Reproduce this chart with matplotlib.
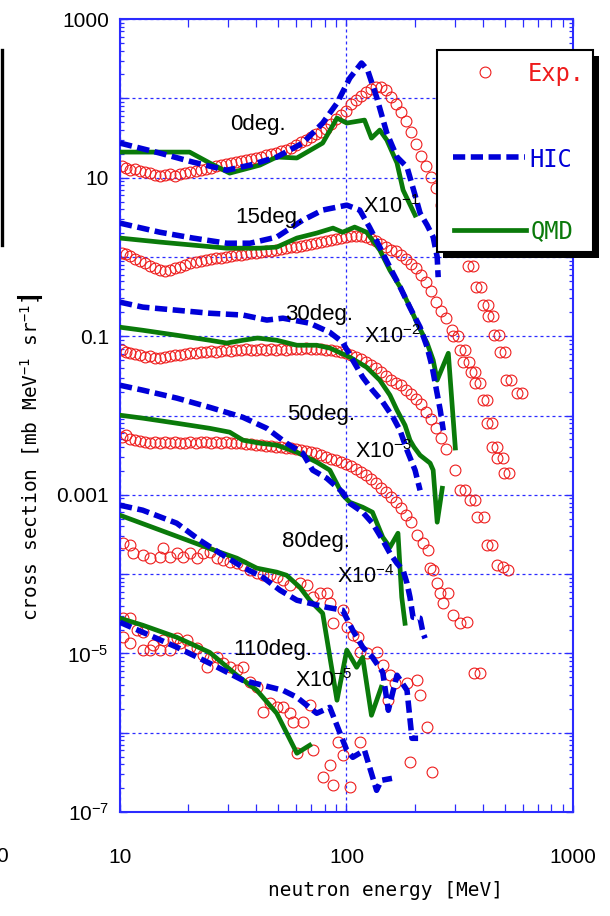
import matplotlib
matplotlib.use("Agg")
import numpy as np
import matplotlib.pyplot as plt
from matplotlib.ticker import FixedLocator, LogLocator, FuncFormatter, NullFormatter
from matplotlib.patches import Rectangle
from matplotlib.lines import Line2D

# ---- data (unscaled cross sections, mb/MeV/sr) ----
e_grid = [10.2, 10.6, 11.1, 11.6, 12.2, 12.9, 13.6, 14.3, 15.0, 15.8,
          16.6, 17.5, 18.4, 19.4, 20.3, 21.6, 22.7, 23.9, 25.2, 26.5,
          27.8, 29.3, 30.8, 32.5, 34.1, 35.9, 37.8, 39.8, 41.9, 44.0,
          46.3, 48.8, 51.3, 54.0, 56.8, 59.8, 62.9, 66.2, 69.7, 73.3,
          77.2, 81.2, 85.5, 89.9, 94.6, 99.6, 105, 110, 116, 122,
          128, 135, 142, 149, 157, 165, 174, 183, 193, 203,
          213, 225, 236, 249, 262, 275]

exp0_s = [14.0, 13.2, 12.4, 12.8, 12.0, 11.7, 11.4, 10.8, 10.5, 10.8,
          11.1, 10.5, 11.1, 11.4, 11.7, 12.0, 12.4, 12.8, 13.2, 14.0,
          14.4, 14.8, 15.3, 15.7, 16.2, 16.7, 17.2, 17.7, 18.2, 19.3,
          19.8, 20.4, 21.6, 22.3, 23.6, 25.8, 28.1, 29.8, 32.6, 35.6,
          37.8, 41.1, 47.5, 54.7, 61.5, 69.2, 84.5, 95, 107, 120,
          131, 139, 139, 127, 104, 84.5, 67, 51.7, 37.8, 26.5,
          18.7, 14.0, 10.2, 7.4, 4.5, 2.75]
exp0_tail_e = [343, 363, 372, 392, 399, 420, 420, 442, 446, 470, 478, 499, 504, 531, 564, 593]
exp0_tail_s = [0.766, 0.766, 0.416, 0.416, 0.247, 0.247, 0.179, 0.179,
               0.103, 0.103, 0.063, 0.063, 0.0279, 0.0279, 0.0191, 0.0191]

exp15_s = [11.2, 10.9, 10.2, 9.4, 8.85, 8.4, 7.7, 7.2, 6.8, 6.6,
           6.8, 7.2, 7.4, 7.9, 8.4, 8.6, 8.85, 9.1, 9.4, 9.7,
           9.7, 9.95, 10.2, 10.5, 10.5, 10.8, 11.2, 11.2, 11.5, 11.8,
           11.8, 12.2, 12.5, 12.9, 13.3, 13.3, 13.7, 14.1, 14.4, 14.8,
           15.4, 15.8, 16.3, 16.8, 17.3, 17.8, 18.3, 18.3, 18.3, 17.8,
           16.8, 15.8, 14.4, 13.3, 12.2, 11.8, 10.6, 9.5, 8.1, 7.2,
           5.9, 4.8, 3.7, 2.7, 2.07, 1.69]
exp15_tail_e = [291, 296, 312, 318, 333, 328, 346, 353, 371, 371, 388,
                399, 419, 419, 437, 437, 464, 464, 489, 494, 520]
exp15_tail_s = [1.19, 1.0, 1.0, 0.667, 0.667, 0.471, 0.471, 0.352, 0.352, 0.256, 0.256,
                0.156, 0.156, 0.080, 0.080, 0.040, 0.040, 0.029, 0.029, 0.0188, 0.0188]

exp30_s = [6.67, 6.3, 6.1, 5.9, 5.8, 5.45, 5.6, 5.3, 5.3, 5.45,
           5.6, 5.8, 5.8, 5.9, 6.1, 6.1, 6.3, 6.3, 6.5, 6.3,
           6.5, 6.67, 6.5, 6.67, 6.67, 6.87, 6.67, 6.67, 6.87, 6.67,
           6.87, 6.67, 6.87, 6.67, 6.87, 6.87, 6.87, 7.08, 6.87, 6.87,
           6.87, 6.67, 6.67, 6.5, 6.3, 6.1, 5.8, 5.45, 5.14, 4.71,
           4.32, 3.96, 3.52, 3.13, 2.79, 2.6, 2.4, 2.1, 1.85, 1.6,
           1.38, 1.12, 0.9, 0.7, 0.52, 0.38]
exp30_tail_e = [302, 318, 333, 352, 371, 377, 403, 419, 437, 464, 489, 514]
exp30_tail_s = [0.205, 0.114, 0.114, 0.0855, 0.0855, 0.052, 0.052,
                0.0232, 0.0232, 0.0129, 0.0122, 0.0112]

exp50_s = [5.33, 5.65, 5.05, 4.89, 4.75, 4.61, 4.48, 4.61, 4.48, 4.61,
           4.48, 4.61, 4.48, 4.48, 4.61, 4.48, 4.61, 4.61, 4.48, 4.61,
           4.48, 4.61, 4.48, 4.48, 4.48, 4.36, 4.36, 4.23, 4.23, 4.11,
           4.11, 3.99, 3.99, 3.88, 3.88, 3.77, 3.66, 3.55, 3.45, 3.35,
           3.16, 2.98, 2.81, 2.73, 2.58, 2.43, 2.30, 2.11, 1.93, 1.77,
           1.57, 1.40, 1.21, 1.08, 0.93, 0.81, 0.68, 0.553, 0.452]
exp50_tail_e = [205, 218, 229, 234, 241, 251, 259, 268, 282, 296, 318, 342, 364, 387]
exp50_tail_s = [0.31, 0.245, 0.20, 0.119, 0.112, 0.0768, 0.0574, 0.043,
                0.0574, 0.0303, 0.024, 0.0247, 0.00562, 0.00562]

exp80_e = [10.3, 11.1, 11.4, 12.6, 13.6, 15.0, 15.5, 16.6, 17.8, 18.9,
           20.3, 21.8, 23.2, 24.9, 26.8, 28.4, 30.5, 32.8, 34.9, 37.5,
           40.2, 42.7, 45.9, 49.2, 52.4, 56.3, 62.2, 66.7, 70.9, 76.1,
           81.8, 84.4, 96.1, 87.2, 100.3, 106.6, 112, 114.4, 122.7, 135.8,
           144.6, 155.5, 163.8, 185, 205, 211.3, 153, 227, 191, 239]
exp80_s = [2.45, 2.32, 1.84, 1.73, 1.59, 1.63, 2.12, 1.63, 1.84, 1.63,
           1.84, 1.59, 1.84, 1.89, 1.59, 1.50, 1.41, 1.37, 1.29, 1.12,
           1.03, 0.968, 0.968, 0.914, 0.837, 0.725, 0.768, 0.725, 0.512, 0.574,
           0.574, 0.430, 0.351, 0.240, 0.214, 0.170, 0.160, 0.103, 0.100, 0.103,
           0.0709, 0.0531, 0.042, 0.042, 0.0458, 0.0297, 0.0257, 0.0117, 0.00424, 0.00317]

exp110_e = [10.3, 11.1, 10.3, 11.1, 11.9, 12.6, 12.6, 13.6, 14.0, 15.0,
            15.5, 16.6, 17.1, 17.8, 18.4, 19.8, 20.3, 21.8, 23.2, 24.9,
            26.8, 24.2, 28.5, 30.5, 32.8, 34.9, 37.5, 40.2, 42.7, 45.9,
            49.2, 52.4, 56.3, 58.0, 64.1, 68.8, 60.4, 70.9, 78.5, 84.4,
            91.5, 96.1, 114.4, 87.2, 103.4]
exp110_s = [2.78, 2.78, 1.60, 1.34, 1.96, 1.85, 1.10, 1.10, 1.27, 1.10,
            1.47, 1.10, 1.47, 1.55, 1.34, 1.47, 1.20, 1.16, 0.949, 0.869,
            0.895, 0.669, 0.751, 0.669, 0.613, 0.669, 0.433, 0.374, 0.181, 0.235,
            0.209, 0.209, 0.176, 0.135, 0.135, 0.222, 0.0551, 0.0601, 0.0274, 0.0388,
            0.0757, 0.0519, 0.0757, 0.0217, 0.0205]

hic0_e = [10, 15.0, 21.0, 29.6, 37.5, 49.2, 64.1, 78.5, 90.8, 103.4, 116.5,
          123.9, 135.8, 150.7, 167.1, 185, 200.8, 211.3, 227, 241.4, 251.5, 254]
hic0_s = [27.3, 20.4, 15.7, 12.4, 14.4, 18.2, 27.3, 48.8, 87, 180, 279,
          228, 104, 36.5, 18.2, 13.6, 6.03, 3.57, 2.52, 1.78, 0.995, 0.556]
qmd0_e = [10, 20.3, 24.9, 30.5, 41.5, 49.2, 60.4, 78.5, 90.8, 100.3, 120.1,
          128.9, 140.3, 150.7, 167.1, 177.8, 200.8]
qmd0_s = [21.0, 21.0, 15.3, 11.4, 14.4, 18.2, 17.7, 27.3, 56.4, 48.8, 53.2,
          31.5, 39.8, 29.8, 15.3, 6.97, 3.37]

hic15_e = [10, 15.0, 21.0, 29.6, 37.5, 49.2, 64.1, 78.5, 100.3, 114.4, 126.3,
           140.3, 155.5, 172.3, 190.7, 211.3, 227, 239, 246.4, 259.4, 267.6]
hic15_s = [26.7, 20.5, 17.3, 14.9, 14.9, 17.8, 29.1, 39, 45, 39, 23.8,
           13.3, 7.4, 4.2, 2.3, 1.3, 0.73, 0.41, 0.256, 0.117, 0.065]
qmd15_e = [10, 15, 21, 29.6, 41.5, 49.2, 60.4, 73.9, 87.2, 96.1, 108.7,
           122.7, 140.3, 155.5, 172.3, 190.7, 205, 227, 241.4, 251.5, 281.6, 302.4]
qmd15_s = [17.3, 15.4, 14.1, 12.9, 12.9, 13.3, 17.3, 20.0, 23.1, 20.5, 23.8,
           20.5, 12.2, 6.8, 4.2, 2.33, 1.46, 0.82, 0.50, 0.28, 0.61, 0.039]

hic30_e = [10, 12.6, 17.8, 24.9, 34.9, 44.5, 52.4, 68.8, 84.4, 96.1,
           106.6, 117.9, 130.2, 144.6, 160.5, 172.3, 185, 200.8, 211.3]
hic30_s = [26.9, 23.3, 21.3, 19.5, 18.5, 16.0, 16.9, 14.6, 11.2, 8.4,
           5.0, 3.05, 2.09, 1.48, 0.95, 0.65, 0.366, 0.205, 0.114]
qmd30_e = [10, 12.6, 17.8, 24.9, 29.6, 34.9, 40.4, 49.2, 60.4, 73.9, 84.4, 103.4,
           122.7, 140.3, 155.5, 167.1, 181.3, 190.7, 198.7, 211.3, 234, 241.4, 251.5, 264.8]
qmd30_s = [13.0, 11.9, 10.3, 8.9, 8.2, 8.9, 9.5, 8.9, 7.7, 7.7, 7.1, 5.45,
           4.07, 2.79, 1.81, 1.17, 0.755, 0.489, 0.40, 0.316, 0.251, 0.205, 0.0452, 0.121]

hic50_e = [10, 12.6, 17.8, 24.9, 34.9, 44.5, 54.4, 64.1, 70.9, 81.8, 96.1, 103.4,
           117.9, 130.2, 144.6, 155.5, 167.1, 177.8, 185, 190.7, 196.7, 211.3, 217.9, 222.4]
hic50_s = [24.1, 20.9, 16.6, 12.7, 9.5, 6.9, 4.48, 3.35, 2.05, 1.62, 1.08, 0.784,
           0.604, 0.439, 0.268, 0.184, 0.137, 0.112, 0.0768, 0.0512, 0.0286, 0.0278, 0.018, 0.0155]
qmd50_e = [10, 12.6, 17.8, 24.9, 30.5, 34.9, 41.5, 49.2, 60.4, 73.9,
           84.4, 96.1, 103.4, 117.9, 130.2, 144.6, 155.5, 168.8, 175.4, 181.3]
qmd50_s = [10.1, 9.27, 8.0, 6.9, 6.17, 4.89, 4.48, 4.23, 3.45, 2.58,
           2.05, 1.0, 0.807, 0.698, 0.604, 0.292, 0.218, 0.328, 0.0512, 0.024]

hic80_e = [10, 12.6, 17.8, 22.5, 27.6, 34.9, 42.7, 50.9, 60.4, 68.8, 81.8,
           96.1, 106.6, 117.9, 130.2, 144.6, 153, 167.1, 185, 194.6, 207.1]
hic80_s = [7.4, 6.4, 4.39, 2.68, 1.84, 1.22, 0.914, 0.627, 0.469, 0.43, 0.382,
           0.351, 0.196, 0.12, 0.0895, 0.0578, 0.0192, 0.0531, 0.0343, 0.00851, 0.00851]
qmd80_e = [10, 27.6, 32.8, 40.2, 49.2, 54.4, 62.2, 68.8, 78.5, 90.8,
           100.3, 110.9, 117.9, 128.9, 142.4]
qmd80_s = [5.53, 1.89, 1.59, 1.19, 1.06, 0.968, 0.684, 0.469, 0.321, 0.0257,
           0.110, 0.0669, 0.0895, 0.0166, 0.0374]

hic110_e = [10, 12.6, 17.8, 24.9, 34.9, 42.7, 52.4, 60.4, 73.9, 84.4,
            100.3, 106.6, 120.1, 135.8, 142.4, 158.8]
hic110_s = [2.47, 1.85, 1.20, 0.751, 0.458, 0.397, 0.343, 0.280, 0.176, 0.209,
            0.0601, 0.049, 0.0601, 0.0188, 0.0251, 0.0266]
qmd110_e = [10, 12.6, 17.8, 24.9, 32.8, 40.2, 49.2, 60.4, 68.8]
qmd110_s = [2.78, 2.27, 1.60, 1.03, 0.531, 0.343, 0.176, 0.0551, 0.0695]

angles = ["0deg.", "15deg.", "30deg.", "50deg.", "80deg.", "110deg."]
scales = [1, 1e-1, 1e-2, 1e-3, 1e-4, 1e-5]
scale_labels = ["X10$^{-1}$", "X10$^{-2}$", "X10$^{-3}$", "X10$^{-4}$", "X10$^{-5}$"]

xtick_vals = [10, 100, 1000]
xtick_labels = ["10", "100", "1000"]
ytick_vals = [1e3, 1e1, 1e-1, 1e-3, 1e-5, 1e-7]
ytick_labels = ["1000", "10", "0.1", "0.001", "10$^{-5}$", "10$^{-7}$"]

# ---- assemble series ----
exp_sets = [
    (e_grid[:len(exp0_s)] + exp0_tail_e, exp0_s + exp0_tail_s),
    (e_grid[:len(exp15_s)] + exp15_tail_e, exp15_s + exp15_tail_s),
    (e_grid[:len(exp30_s)] + exp30_tail_e, exp30_s + exp30_tail_s),
    (e_grid[:len(exp50_s)] + exp50_tail_e, exp50_s + exp50_tail_s),
    (exp80_e, exp80_s),
    (exp110_e, exp110_s),
]
hic_sets = [(hic0_e, hic0_s), (hic15_e, hic15_s), (hic30_e, hic30_s),
            (hic50_e, hic50_s), (hic80_e, hic80_s), (hic110_e, hic110_s)]
qmd_sets = [(qmd0_e, qmd0_s), (qmd15_e, qmd15_s), (qmd30_e, qmd30_s),
            (qmd50_e, qmd50_s), (qmd80_e, qmd80_s), (qmd110_e, qmd110_s)]

RED = "#ee1c1c"
BLUE = "#0000d8"
GREEN = "#0a7a0a"
AXBLUE = "#2b2bff"
SANS = ["Liberation Sans", "DejaVu Sans"]
MONO = ["DejaVu Sans Mono"]

plt.rcParams.update({
    "font.family": SANS,
    "mathtext.default": "regular",
})

fig = plt.figure(figsize=(6.1, 9.16), dpi=100)
ax = fig.add_axes([0.1967, 0.1135, 0.7426, 0.8657])
ax.set_xscale("log")
ax.set_yscale("log")

for (ee, ss), f in zip(exp_sets, scales):
    ax.plot(ee, np.array(ss) * f, ls="none", marker="o", ms=7.8,
            mfc="none", mec=RED, mew=0.8, zorder=2)
for (ee, ss), f in zip(qmd_sets, scales):
    ax.plot(ee, np.array(ss) * f, color=GREEN, lw=3.4, zorder=3)
for (ee, ss), f in zip(hic_sets, scales):
    ax.plot(ee, np.array(ss) * f, color=BLUE, lw=4, dashes=(2.2, 1.0), zorder=4)

# curve labels
angle_pos = [(30.5, 39.8), (32.2, 2.67), (53.4, 0.16), (54.5, 8.7e-3), (51.8, 2.2e-4), (31.5, 9.5e-6)]
for txt, (x, y) in zip(angles, angle_pos):
    ax.text(x, y, txt, fontsize=16, ha="left", va="baseline", zorder=5)
scale_pos = [(118, 3.57), (120, 0.0818), (109, 2.9e-3), (90.6, 7.68e-5), (59.2, 3.74e-6)]
for txt, (x, y) in zip(scale_labels, scale_pos):
    ax.text(x, y, txt, fontsize=15.5, ha="left", va="baseline", zorder=5)

# axes styling
ax.set_xlim(10, 1000)
ax.set_ylim(1e-7, 1e3)
ax.xaxis.set_major_locator(FixedLocator(xtick_vals))
ax.xaxis.set_minor_locator(LogLocator(base=10, subs=np.arange(2, 10)))
ax.xaxis.set_major_formatter(FuncFormatter(
    lambda v, p: dict(zip(xtick_vals, xtick_labels)).get(round(v), "")))
ax.xaxis.set_minor_formatter(NullFormatter())
ax.yaxis.set_major_locator(LogLocator(base=10, numticks=20))
ax.yaxis.set_minor_locator(LogLocator(base=10, subs=np.arange(2, 10), numticks=20))


def ylab(v, p):
    for tv, tl in zip(ytick_vals, ytick_labels):
        if abs(np.log10(v) - np.log10(tv)) < 1e-6:
            return tl
    return ""


ax.yaxis.set_major_formatter(FuncFormatter(ylab))
ax.yaxis.set_minor_formatter(NullFormatter())

ax.tick_params(which="both", direction="in", top=True, right=True,
               color=AXBLUE, labelcolor="black", labelsize=15)
ax.tick_params(axis="x", which="major", length=5, width=1, pad=26)
ax.tick_params(axis="x", which="minor", length=5.5, width=0.9)
ax.tick_params(axis="y", which="major", length=5, width=1, pad=8)
ax.tick_params(axis="y", which="minor", length=3, width=0.9)
for sp in ax.spines.values():
    sp.set_color(AXBLUE)
    sp.set_linewidth(1.5)
ax.set_axisbelow(True)
ax.grid(True, which="major", color=AXBLUE, lw=0.9, ls=(0, (2.4, 2.4)))

# legend drawn by hand (box with hard shadow, hanging over the right spine)
bx, by, bw, bh = 0.6993, 0.7064, 0.3441, 0.2549
ax.add_patch(Rectangle((bx + 0.0132, by - 0.0076), bw, bh, transform=ax.transAxes,
                       facecolor="black", edgecolor="none", clip_on=False, zorder=10))
ax.add_patch(Rectangle((bx, by), bw, bh, transform=ax.transAxes, facecolor="white",
                       edgecolor="black", lw=1.5, clip_on=False, zorder=11))
ax.add_line(Line2D([0.805], [0.933], transform=ax.transAxes, ls="none", marker="o",
                   ms=7.8, mfc="none", mec=RED, mew=0.8, clip_on=False, zorder=12))
ax.add_line(Line2D([0.735, 0.893], [0.826, 0.826], transform=ax.transAxes, color=BLUE,
                   lw=4, dashes=(2.2, 1.0), clip_on=False, zorder=12))
ax.add_line(Line2D([0.737, 0.896], [0.734, 0.734], transform=ax.transAxes, color=GREEN,
                   lw=3.4, clip_on=False, zorder=12))
ax.text(0.900, 0.931, "Exp.", color=RED, family=MONO, fontsize=17, va="center",
        transform=ax.transAxes, zorder=12)
ax.text(0.904, 0.822, "HIC", color=BLUE, family=MONO, fontsize=17, va="center",
        transform=ax.transAxes, zorder=12)
ax.text(0.907, 0.733, "QMD", color=GREEN, family=MONO, fontsize=17, va="center",
        transform=ax.transAxes, zorder=12)
ax.set_xlim(10, 1000)
ax.set_ylim(1e-7, 1e3)

# axis titles
fig.text(385 / 610, 1 - 890 / 916, "neutron energy [MeV]", family=MONO, fontsize=14,
         ha="center", va="center")
fig.text(30 / 610, 1 - 458 / 916, "cross section [mb MeV$^{-1}$ sr$^{-1}$]", family=MONO,
         fontsize=14, rotation=90, ha="center", va="center")

# bits of the neighbouring panel cut off at the left edge
fig.add_artist(Line2D([1.6 / 610, 1.6 / 610], [1 - 50 / 916, 1 - 245 / 916],
                      color="black", lw=2.4))
fig.add_artist(Line2D([18 / 610, 40 / 610], [1 - 297 / 916, 1 - 297 / 916],
                      color="black", lw=2.2))
fig.text(8 / 610, 1 - 856 / 916, "0", fontsize=15, ha="right", va="center")

fig.savefig("out.png", dpi=100)
